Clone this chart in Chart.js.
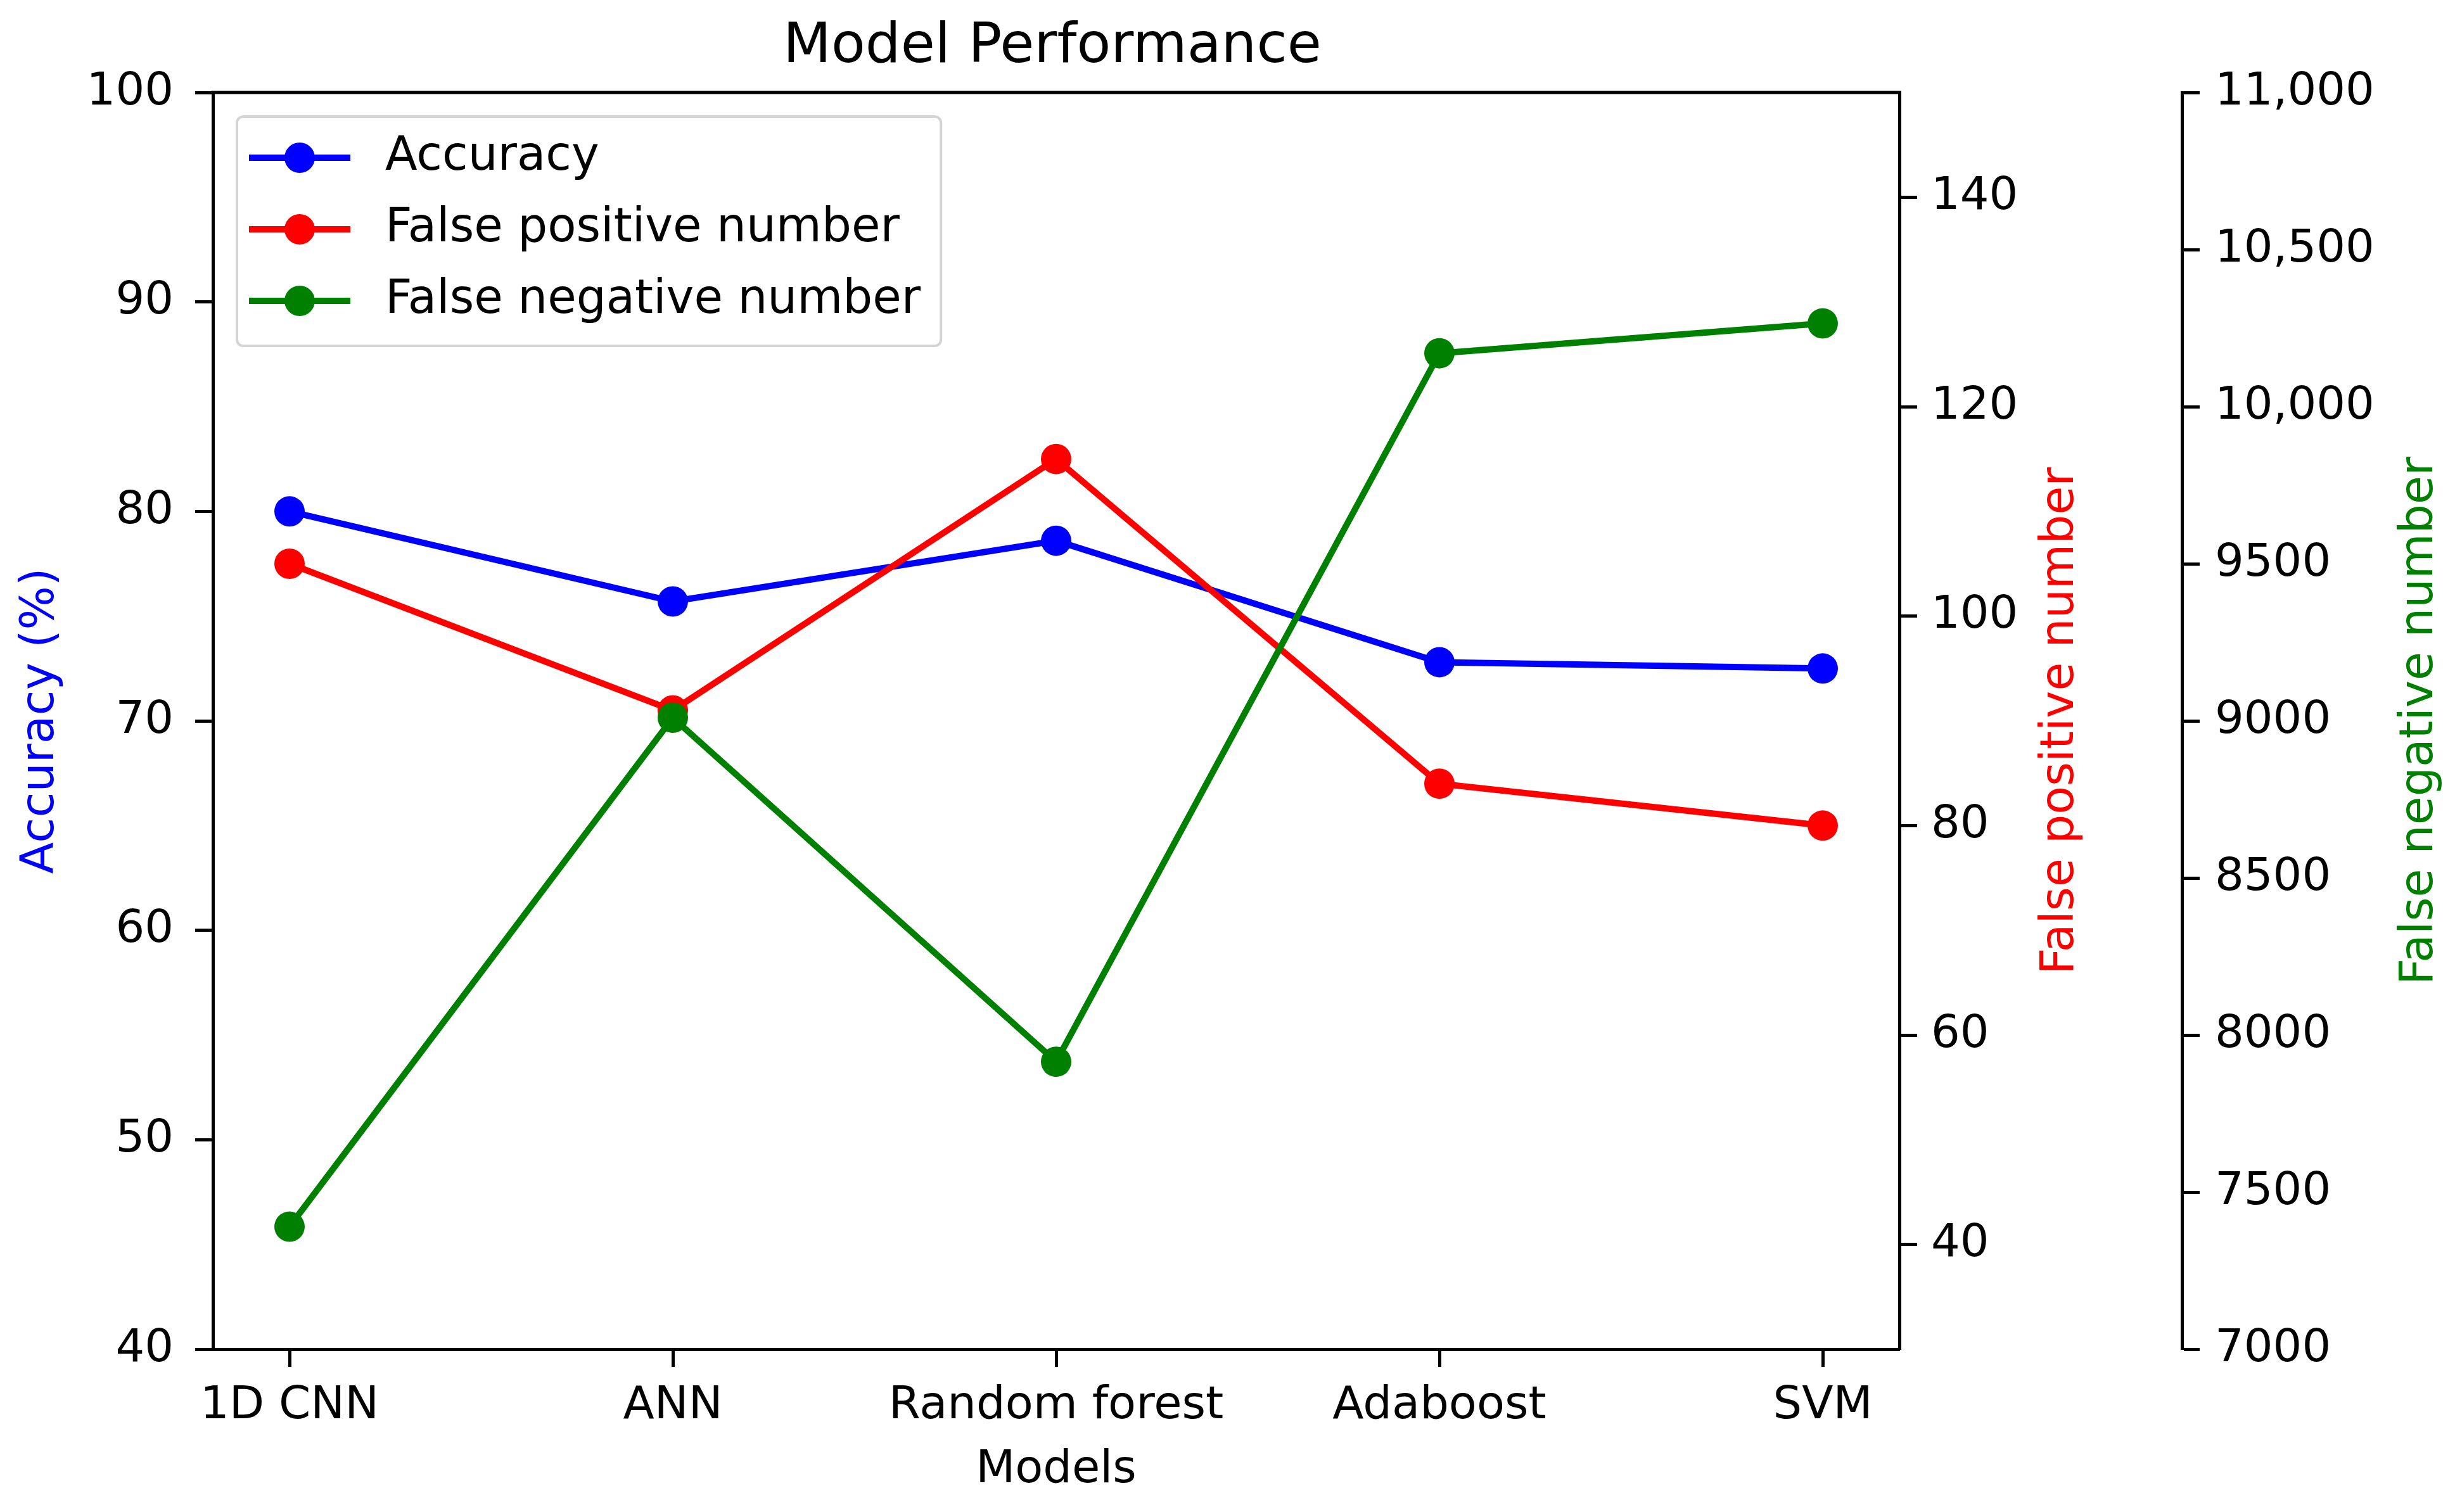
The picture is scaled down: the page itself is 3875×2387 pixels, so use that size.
<!DOCTYPE html>
<html>
<head>
<meta charset="utf-8">
<title>Model Performance</title>
<script src="https://cdn.jsdelivr.net/npm/chart.js@4.4.1/dist/chart.umd.min.js"></script>
<style>
	html, body { margin: 0; padding: 0; background: #fff; }
	canvas { display: block; }
</style>
</head>
<body>
<canvas id="chart" width="3875" height="2387" style="width:3875px;height:2387px"></canvas>
<script>
// Values
const models = ['1D CNN', 'ANN', 'Random forest', 'Adaboost', 'SVM']
const accuracy = [80.0, 75.7, 78.6, 72.8, 72.5]
const falsePositive = [105, 91, 115, 84, 80]
const falseNegative = [7390, 9010, 7915, 10170, 10265]

// Tick labels of the three y axes
const accuracyTicks = [40, 50, 60, 70, 80, 90, 100]
const falsePositiveTicks = [40, 60, 80, 100, 120, 140]
const falsePositiveRange = [30, 150]
const falseNegativeTicks = [7000, 7500, 8000, 8500, 9000, 9500, 10000, 10500, 11000]

const BLUE = '#0000ff'
const RED = '#ff0000'
const GREEN = '#008000'
const FONT = 'DejaVu Sans'

Chart.defaults.font.family = FONT
Chart.defaults.font.size = 72
Chart.defaults.color = '#000'

// matplotlib style legend handle: short line with a marker in the middle
function legendIcon(color) {
	const c = document.createElement('canvas')
	c.width = 196
	c.height = 60
	const g = c.getContext('2d')
	g.strokeStyle = color
	g.lineWidth = 10
	g.beginPath()
	g.moveTo(18, 30)
	g.lineTo(178, 30)
	g.stroke()
	g.fillStyle = color
	g.beginPath()
	g.arc(98, 30, 24, 0, Math.PI * 2)
	g.fill()
	return c
}

const asTicks = values => scale => {
	scale.ticks = values.map(value => ({ value }))
}

const axisStyle = {
	grid: { drawOnChartArea: false, color: '#000', tickLength: 28, tickWidth: 5 },
	border: { display: true, color: '#000', width: 5 },
}

const decorations = {
	id: 'decorations',

	afterLayout(chart) {
		// legend sits inside the axes, upper left
		const legend = chart.legend
		legend.left = chart.chartArea.left
		legend.top = chart.chartArea.top + 27
	},

	beforeDraw(chart) {
		const boxes = chart.legend.legendHitBoxes
		if (!boxes || !boxes.length) return
		const ctx = chart.ctx
		const last = boxes[boxes.length - 1]
		const left = Math.min(...boxes.map(b => b.left)) - 1
		const right = Math.max(...boxes.map(b => b.left + b.width)) + 32
		const top = boxes[0].top - 28
		const bottom = last.top + last.height + 34

		ctx.save()
		ctx.beginPath()
		ctx.roundRect(left, top, right - left, bottom - top, 10)
		ctx.fillStyle = 'rgba(255,255,255,0.8)'
		ctx.fill()
		ctx.lineWidth = 4
		ctx.strokeStyle = '#d4d4d4'
		ctx.stroke()
		ctx.restore()
	},

	afterDatasetsDraw(chart) {
		// top spine
		const { ctx, chartArea } = chart
		ctx.save()
		ctx.strokeStyle = '#000'
		ctx.lineWidth = 5
		ctx.beginPath()
		ctx.moveTo(chartArea.left - 2.5, chartArea.top)
		ctx.lineTo(chartArea.right + 2.5, chartArea.top)
		ctx.stroke()
		ctx.restore()
	},

	afterDraw(chart) {
		const { ctx, chartArea, scales } = chart
		const midY = (chartArea.top + chartArea.bottom) / 2

		ctx.save()
		ctx.fillStyle = '#000'
		ctx.font = '88px "' + FONT + '"'
		ctx.textAlign = 'center'
		ctx.textBaseline = 'alphabetic'
		ctx.fillText('Model Performance', (chartArea.left + chartArea.right) / 2 - 6, 98)
		ctx.restore()

		// right hand axis titles read bottom to top, like matplotlib
		const rotated = (text, x, color) => {
			ctx.save()
			ctx.translate(x, midY)
			ctx.rotate(-Math.PI / 2)
			ctx.font = '73px "' + FONT + '"'
			ctx.fillStyle = color
			ctx.textAlign = 'center'
			ctx.textBaseline = 'alphabetic'
			ctx.fillText(text, 0, 0)
			ctx.restore()
		}
		rotated('False positive number', scales.y1.left + 274, RED)
		rotated('False negative number', scales.y2.left + 395, GREEN)
	},
}

const points = values => values.map((y, x) => ({ x, y }))

const series = (label, values, color, axis, order) => ({
	label,
	data: points(values),
	yAxisID: axis,
	order,
	borderColor: color,
	backgroundColor: color,
	borderWidth: 10,
	pointRadius: 24,
	pointBorderWidth: 0,
	pointBackgroundColor: color,
	tension: 0,
})

new Chart(document.getElementById('chart'), {
	type: 'line',

	data: {
		datasets: [
			series('Accuracy', accuracy, BLUE, 'y', 3),
			series('False positive number', falsePositive, RED, 'y1', 2),
			series('False negative number', falseNegative, GREEN, 'y2', 1),
		],
	},

	options: {
		responsive: false,
		devicePixelRatio: 1,
		animation: false,
		events: [],
		layout: { padding: { top: 146, left: 0, right: 0, bottom: 0 } },

		plugins: {
			title: { display: false },
			tooltip: { enabled: false },
			legend: {
				position: 'chartArea',
				align: 'start',
				labels: {
					usePointStyle: true,
					pointStyleWidth: 196,
					padding: 39,
					color: '#000',
					font: { size: 74 },
					generateLabels(chart) {
						const colors = [BLUE, RED, GREEN]
						return Chart.defaults.plugins.legend.labels.generateLabels(chart)
							.sort((a, b) => a.datasetIndex - b.datasetIndex)
							.map(item => {
								item.pointStyle = legendIcon(colors[item.datasetIndex])
								return item
							})
					},
				},
			},
		},

		scales: {
			x: {
				type: 'linear',
				position: 'bottom',
				min: -0.2,
				max: 4.2,
				...axisStyle,
				afterBuildTicks: asTicks(models.map((m, i) => i)),
				afterFit: scale => { scale.height = 257 },
				ticks: {
					padding: 19,
					autoSkip: false,
					maxRotation: 0,
					callback: value => models[value],
				},
				title: {
					display: true,
					text: 'Models',
					font: { size: 72 },
					padding: { top: 0, bottom: 23 },
				},
			},

			y: {
				position: 'left',
				min: accuracyTicks[0],
				max: accuracyTicks[accuracyTicks.length - 1],
				...axisStyle,
				afterBuildTicks: asTicks(accuracyTicks),
				afterFit: scale => { scale.width = 336 },
				ticks: { padding: 34 },
				title: {
					display: true,
					text: 'Accuracy (%)',
					color: BLUE,
					font: { size: 73 },
					padding: { top: 21, bottom: 0 },
				},
			},

			y1: {
				position: 'right',
				weight: 0,
				min: falsePositiveRange[0],
				max: falsePositiveRange[1],
				...axisStyle,
				afterBuildTicks: asTicks(falsePositiveTicks),
				afterFit: scale => { scale.width = 446 },
				ticks: { padding: 22 },
			},

			y2: {
				position: 'right',
				weight: 1,
				min: falseNegativeTicks[0],
				max: falseNegativeTicks[falseNegativeTicks.length - 1],
				...axisStyle,
				afterBuildTicks: asTicks(falseNegativeTicks),
				afterFit: scale => { scale.width = 431 },
				ticks: {
					padding: 24,
					callback: value => value >= 10000 ? value.toLocaleString('en-US') : String(value),
				},
			},
		},
	},

	plugins: [decorations],
})
</script>
</body>
</html>
